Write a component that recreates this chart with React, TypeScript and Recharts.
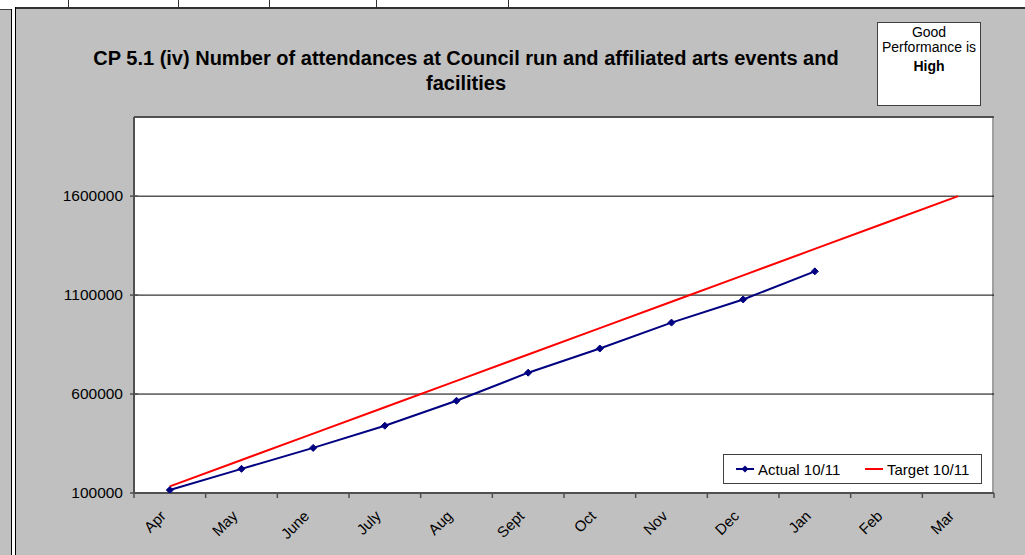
import React from 'react';
import { LineChart, Line, XAxis, YAxis, CartesianGrid, Legend } from 'recharts';

const months = ['Apr', 'May', 'June', 'July', 'Aug', 'Sept', 'Oct', 'Nov', 'Dec', 'Jan', 'Feb', 'Mar'];
const actual: (number | null)[] = [115000, 222000, 328000, 440000, 566000, 708000, 830000, 961000, 1078000, 1220000, null, null];
const target = [133333, 266667, 400000, 533333, 666667, 800000, 933333, 1066667, 1200000, 1333333, 1466667, 1600000];
const yTicks = [100000, 600000, 1100000, 1600000];
const yDomain = [100000, 2000000];
const seriesNames = ['Actual 10/11', 'Target 10/11'];
const titleLines = ['CP 5.1 (iv) Number of attendances at Council run and affiliated arts events and', 'facilities'];
const perfLines = ['Good', 'Performance is', 'High'];

const data = months.map((m, i) => ({ month: m, actual: actual[i], target: target[i] }));

const FONT = '"Liberation Sans", Arial, sans-serif';
const W = 1025;
const H = 555;
const LEFT = 134;
const RIGHT = 31;
const TOP = 117;
const XH = 62;
const BAND = (W - LEFT - RIGHT) / months.length;
const AXIS = '#505050';

const XTick = (props: any) => {
  const { x, y, payload, index } = props;
  const ax = x - 3;
  const ay = y + 24;
  return (
    <g>
      <line x1={x - BAND / 2} x2={x - BAND / 2} y1={y} y2={y + 5} stroke={AXIS} strokeWidth={1.5} />
      {index === months.length - 1 && (
        <line x1={x + BAND / 2} x2={x + BAND / 2} y1={y} y2={y + 5} stroke={AXIS} strokeWidth={1.5} />
      )}
      <text x={ax} y={ay} textAnchor="end" transform={`rotate(-45 ${ax} ${ay})`} fontSize={15} fontFamily={FONT} fill="#000">
        {payload.value}
      </text>
    </g>
  );
};

const YTick = (props: any) => {
  const { x, y, payload } = props;
  return (
    <g>
      <line x1={x - 4} x2={x + 4} y1={y} y2={y} stroke={AXIS} strokeWidth={1.5} />
      <text x={x - 11} y={y} dy={5} textAnchor="end" fontSize={15.5} fontFamily={FONT} fill="#000">
        {payload.value}
      </text>
    </g>
  );
};

const Diamond = (props: any) => {
  const { cx, cy, value } = props;
  if (value == null || cx == null || cy == null) return <g />;
  const r = 3.5;
  return (
    <polygon
      points={`${cx},${cy - r} ${cx + r},${cy} ${cx},${cy + r} ${cx - r},${cy}`}
      fill="#000080"
      stroke="#000080"
      strokeWidth={1}
    />
  );
};

const renderLegend = (props: any) => {
  const payload = props.payload || [];
  const offsets = [12, 141];
  return (
    <div
      style={{
        position: 'relative',
        width: 259,
        height: 30,
        boxSizing: 'border-box',
        border: '1px solid #404040',
        background: '#fff',
        fontFamily: FONT,
        fontSize: 15,
      }}
    >
      {payload.map((p: any, i: number) => (
        <div key={i} style={{ position: 'absolute', left: offsets[i], top: 5, height: 18, display: 'flex', alignItems: 'center' }}>
          <svg width={18} height={18} style={{ display: 'block' }}>
            <line x1={0} x2={18} y1={9} y2={9} stroke={p.color} strokeWidth={2} />
            {i === 0 && <polygon points="9,5.5 12.5,9 9,12.5 5.5,9" fill={p.color} />}
          </svg>
          <span style={{ marginLeft: 4, color: '#000', whiteSpace: 'nowrap' }}>{p.value}</span>
        </div>
      ))}
    </div>
  );
};

const stripLines = [68, 178, 269, 376, 508];

export default function App() {
  return (
    <div style={{ position: 'absolute', left: 0, top: 0, width: W, height: H, background: '#fff', overflow: 'hidden' }}>
      {stripLines.map((x) => (
        <div key={x} style={{ position: 'absolute', left: x, top: 0, width: 1, height: 7, background: '#303030' }} />
      ))}
      <div style={{ position: 'absolute', left: 0, top: 9, width: 11, height: H - 9, background: '#C0C0C0', borderTop: '1px solid #404040' }} />
      <div style={{ position: 'absolute', left: 11, top: 9, width: 1, height: H - 9, background: '#000' }} />
      <div style={{ position: 'absolute', left: 15, top: 7, width: 1, height: H - 7, background: '#000' }} />
      <div style={{ position: 'absolute', left: 16, top: 7, width: W - 16, height: H - 7, background: '#C0C0C0', borderTop: '2px solid #303030', boxSizing: 'border-box' }} />
      <div
        style={{
          position: 'absolute',
          left: LEFT,
          top: TOP - 1,
          width: W - LEFT - RIGHT,
          height: H - XH - TOP + 1,
          background: '#fff',
          borderTop: '2px solid #A0A0A0',
          borderRight: '2px solid #A0A0A0',
          boxSizing: 'border-box',
        }}
      />
      <div
        style={{
          position: 'absolute',
          left: 66,
          top: 46,
          width: 800,
          textAlign: 'center',
          fontFamily: FONT,
          fontWeight: 'bold',
          fontSize: 20,
          lineHeight: '25px',
          color: '#000',
        }}
      >
        {titleLines.map((t, i) => (
          <div key={i} style={{ whiteSpace: 'nowrap' }}>{t}</div>
        ))}
      </div>
      <div
        style={{
          position: 'absolute',
          left: 877,
          top: 22,
          width: 104,
          height: 84,
          boxSizing: 'border-box',
          border: '1px solid #404040',
          background: '#fff',
          fontFamily: FONT,
          fontSize: 14,
          color: '#000',
        }}
      >
        {perfLines.map((t, i) => (
          <div
            key={i}
            style={{
              position: 'absolute',
              left: 0,
              width: '100%',
              textAlign: 'center',
              top: [1, 16, 35][i],
              lineHeight: '16px',
              fontWeight: i === 2 ? 'bold' : 'normal',
              whiteSpace: 'nowrap',
            }}
          >
            {t}
          </div>
        ))}
      </div>
      <div style={{ position: 'absolute', left: 0, top: 0 }}>
        <LineChart width={W} height={H} data={data} margin={{ top: TOP, right: RIGHT, bottom: 0, left: 0 }}>
          <CartesianGrid vertical={false} stroke="#000" strokeWidth={1} />
          <XAxis
            dataKey="month"
            scale="band"
            interval={0}
            height={XH}
            tickSize={0}
            tickMargin={0}
            tick={<XTick />}
            axisLine={{ stroke: AXIS, strokeWidth: 2 }}
            tickLine={false}
          />
          <YAxis
            width={LEFT}
            domain={yDomain}
            ticks={yTicks}
            type="number"
            allowDataOverflow
            tickSize={0}
            tickMargin={0}
            tick={<YTick />}
            axisLine={{ stroke: AXIS, strokeWidth: 2 }}
            tickLine={false}
          />
          <Legend
            layout="horizontal"
            verticalAlign="middle"
            align="center"
            wrapperStyle={{ left: 723, top: 454, width: 259, height: 30 }}
            content={renderLegend}
          />
          <Line
            name={seriesNames[0]}
            dataKey="actual"
            stroke="#000080"
            strokeWidth={2}
            dot={<Diamond />}
            activeDot={false}
            isAnimationActive={false}
          />
          <Line
            name={seriesNames[1]}
            dataKey="target"
            stroke="#FF0000"
            strokeWidth={2}
            dot={false}
            activeDot={false}
            isAnimationActive={false}
          />
        </LineChart>
      </div>
    </div>
  );
}
